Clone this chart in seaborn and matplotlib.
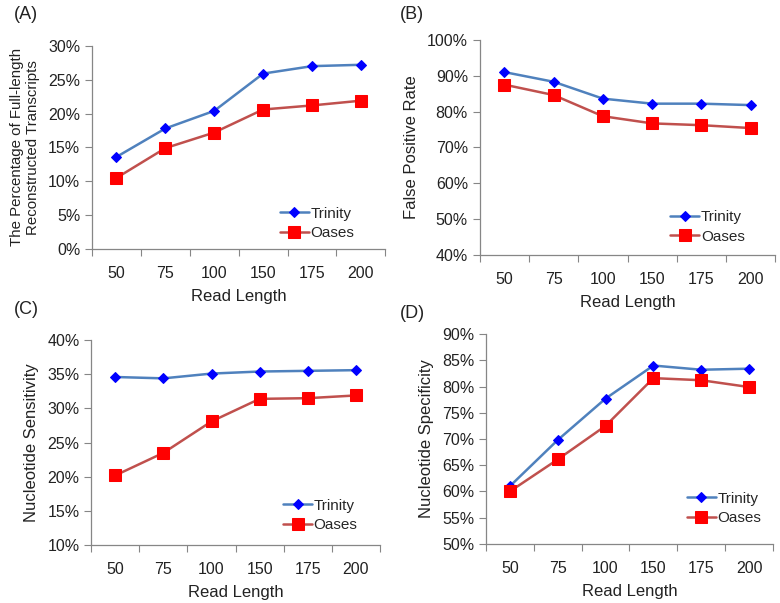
import matplotlib
matplotlib.use("Agg")
import matplotlib.pyplot as plt
from matplotlib.ticker import FuncFormatter, FixedLocator
import seaborn as sns
import numpy as np

# Data
read_lengths = ["50", "75", "100", "150", "175", "200"]

trinity_full = [13.6, 17.8, 20.4, 25.9, 27.0, 27.2]
oases_full = [10.5, 14.9, 17.2, 20.6, 21.2, 21.9]

trinity_fpr = [91.0, 88.3, 83.6, 82.2, 82.2, 81.8]
oases_fpr = [87.5, 84.6, 78.7, 76.7, 76.2, 75.4]

trinity_sens = [34.6, 34.4, 35.1, 35.4, 35.5, 35.6]
oases_sens = [20.2, 23.5, 28.1, 31.4, 31.5, 31.9]

trinity_spec = [61.0, 69.8, 77.7, 84.0, 83.2, 83.4]
oases_spec = [60.0, 66.1, 72.5, 81.6, 81.2, 79.9]

sns.set_theme(style="white")
plt.rcParams['font.family'] = ['Liberation Sans', 'DejaVu Sans']

fig = plt.figure(figsize=(7.8, 6.03), dpi=100)

# panel definitions: axes rect, data, y range, ylabel (size), legend anchor, tag position
panels = [
    ([0.118, 0.587, 0.376, 0.337], trinity_full, oases_full, (0, 30, 5),
     "The Percentage of Full-length\nReconstructed Transcripts", 10.8, (0.64, 0.126), "(A)", (0.018, 0.99)),
    ([0.615, 0.577, 0.379, 0.357], trinity_fpr, oases_fpr, (40, 100, 10),
     "False Positive Rate", 12, (0.645, 0.13), "(B)", (0.513, 0.99)),
    ([0.117, 0.096, 0.370, 0.340], trinity_sens, oases_sens, (10, 40, 5),
     "Nucleotide Sensitivity", 12, (0.665, 0.146), "(C)", (0.018, 0.5)),
    ([0.623, 0.098, 0.368, 0.348], trinity_spec, oases_spec, (50, 90, 5),
     "Nucleotide Specificity", 12, (0.70, 0.17), "(D)", (0.513, 0.494)),
]

x = np.arange(len(read_lengths))
spine_col = "#868686"

for rect, trin, oas, (ymin, ymax, ystep), ylab, ylab_size, leg_anchor, tag, tag_pos in panels:
    ax = fig.add_axes(rect)
    sns.lineplot(x=x, y=trin, ax=ax, color="#4F81BD", linewidth=1.8,
                 marker="D", markersize=5.5, markerfacecolor="#0000FF",
                 markeredgecolor="#0000FF", label="Trinity")
    sns.lineplot(x=x, y=oas, ax=ax, color="#C0504D", linewidth=1.8,
                 marker="s", markersize=8, markerfacecolor="#FF0000",
                 markeredgecolor="#FF0000", label="Oases")

    ax.set_xlim(-0.5, len(read_lengths) - 0.5)
    ax.set_ylim(ymin, ymax)
    ax.set_yticks(np.arange(ymin, ymax + 0.1, ystep))
    ax.yaxis.set_major_formatter(FuncFormatter(lambda v, p: f"{v:.0f}%"))

    # Excel-style: tick marks between categories, labels in the middle
    ax.set_xticks(x)
    ax.set_xticklabels(read_lengths)
    ax.xaxis.set_minor_locator(FixedLocator(np.arange(-0.5, len(read_lengths), 1.0)))
    ax.tick_params(axis="x", which="major", length=0, pad=12, labelsize=11.5, colors="#222222")
    ax.tick_params(axis="x", which="minor", length=5, width=0.8, color=spine_col, direction="out", bottom=True)
    ax.tick_params(axis="y", which="major", length=5, width=0.8, color=spine_col, direction="out",
                   left=True, labelsize=11.5, labelcolor="#222222")

    for side in ("top", "right"):
        ax.spines[side].set_visible(False)
    for side in ("left", "bottom"):
        ax.spines[side].set_color(spine_col)
        ax.spines[side].set_linewidth(0.9)

    ax.set_xlabel("Read Length", fontsize=12, labelpad=6, color="#222222")
    ax.set_ylabel(ylab, fontsize=ylab_size, labelpad=6, color="#222222")

    ax.legend(loc="center left", bbox_to_anchor=leg_anchor, frameon=False,
              fontsize=11, handlelength=1.9, handletextpad=0.1,
              labelspacing=0.35, borderpad=0, borderaxespad=0)

    fig.text(tag_pos[0], tag_pos[1], tag, fontsize=13, ha="left", va="top", color="#222222")

fig.savefig("out.png", dpi=100)
